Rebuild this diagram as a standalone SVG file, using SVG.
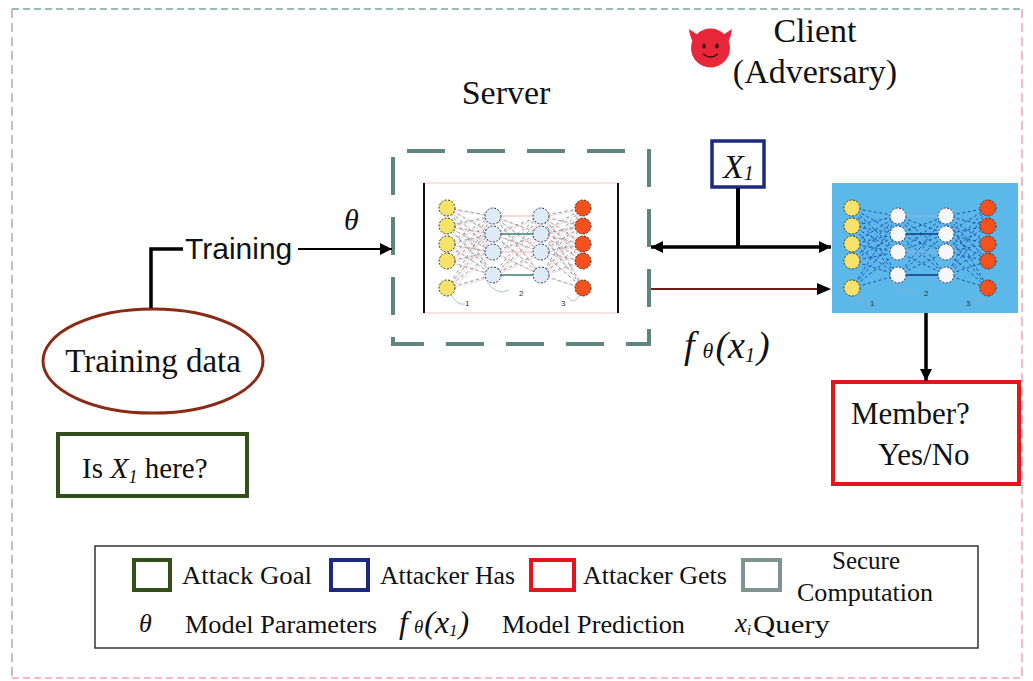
<svg xmlns="http://www.w3.org/2000/svg" xmlns:xlink="http://www.w3.org/1999/xlink" width="1033" height="681" viewBox="0 0 1033 681">
  <style>
    .serif { font-family: "Liberation Serif", "Times New Roman", serif; fill: #111; }
    .sans { font-family: "Liberation Sans", Arial, sans-serif; fill: #111; }
    .math { font-family: "Liberation Serif", "Times New Roman", serif; font-style: italic; fill: #111; }
    .wire { fill: none; stroke: #000; }
    .inNode { fill: #f7e36a; stroke: #333; stroke-width: 1; stroke-dasharray: 2 1.5; }
    .outNode { fill: #f4511e; stroke: #333; stroke-width: 1; stroke-dasharray: 2 1.5; }
    .hidS { fill: #dcebf6; stroke: #335; stroke-width: 1; stroke-dasharray: 2 1.5; }
    .hidC { fill: #f4f8fb; stroke: #335; stroke-width: 1; stroke-dasharray: 2 1.5; }
    .tiny { font-family: "Liberation Sans", Arial, sans-serif; font-size: 8px; fill: #333; }
    .legend { font-family: "Liberation Serif", "Times New Roman", serif; font-size: 25px; fill: #111; }
  </style>
  <defs>
    <marker id="arr" viewBox="0 0 10 10" refX="10" refY="5" markerWidth="14" markerHeight="12" markerUnits="userSpaceOnUse" orient="auto-start-reverse">
      <path d="M0 0L10 5L0 10z" fill="#000"/>
    </marker>
    <!-- fully connected layer edges, local x: input 0, hidden 46 / 94, output 136 -->
    <path id="nnEdges" d="M0 208L46 216M0 208L46 234M0 208L46 252M0 208L46 275M0 226L46 216M0 226L46 234M0 226L46 252M0 226L46 275M0 244L46 216M0 244L46 234M0 244L46 252M0 244L46 275M0 261L46 216M0 261L46 234M0 261L46 252M0 261L46 275M0 288L46 216M0 288L46 234M0 288L46 252M0 288L46 275M46 216L94 234M46 216L94 252M46 216L94 275M46 234L94 216M46 234L94 252M46 234L94 275M46 252L94 216M46 252L94 234M46 252L94 275M46 275L94 216M46 275L94 234M46 275L94 252M94 216L136 208M94 216L136 226M94 216L136 244M94 216L136 261M94 216L136 288M94 234L136 208M94 234L136 226M94 234L136 244M94 234L136 261M94 234L136 288M94 252L136 208M94 252L136 226M94 252L136 244M94 252L136 261M94 252L136 288M94 275L136 208M94 275L136 226M94 275L136 244M94 275L136 261M94 275L136 288"/>
    <path id="nnSolid" d="M46 234L94 234M46 275L94 275"/>
    <path id="nnFaint" d="M46 216L94 216M46 252L94 252"/>
    <g id="nnInputs">
      <circle cx="0" cy="208" r="8" class="inNode"/>
      <circle cx="0" cy="226" r="8" class="inNode"/>
      <circle cx="0" cy="244" r="8" class="inNode"/>
      <circle cx="0" cy="261" r="8" class="inNode"/>
      <circle cx="0" cy="288" r="8" class="inNode"/>
    </g>
    <g id="nnOutputs">
      <circle cx="136" cy="208" r="8" class="outNode"/>
      <circle cx="136" cy="226" r="8" class="outNode"/>
      <circle cx="136" cy="244" r="8" class="outNode"/>
      <circle cx="136" cy="261" r="8" class="outNode"/>
      <circle cx="136" cy="288" r="8" class="outNode"/>
    </g>
    <g id="nnHidden">
      <circle cx="46" cy="216" r="8"/>
      <circle cx="46" cy="234" r="8"/>
      <circle cx="46" cy="252" r="8"/>
      <circle cx="46" cy="275" r="8"/>
      <circle cx="94" cy="216" r="8"/>
      <circle cx="94" cy="234" r="8"/>
      <circle cx="94" cy="252" r="8"/>
      <circle cx="94" cy="275" r="8"/>
    </g>
    <g id="nnLabels">
      <path d="M4 294Q10 306 18 304M40 282Q50 296 62 290M120 296Q126 306 132 296" fill="none" stroke="#9aa" stroke-width="0.7"/>
      <text x="18" y="306" class="tiny">1</text>
      <text x="72" y="296" class="tiny">2</text>
      <text x="114" y="306" class="tiny">3</text>
    </g>
  </defs>

  <rect width="1033" height="681" fill="#fff"/>

  <!-- outer frame -->
  <g id="frame" fill="none" stroke-width="1.5">
    <path d="M12 9H1022" stroke="#7aa8a2" stroke-dasharray="7 4"/>
    <path d="M12 9V678" stroke="#b8a8a8" stroke-dasharray="9 5"/>
    <path d="M1022 9V678" stroke="#f3a5ae" stroke-dasharray="9 5"/>
    <path d="M12 678H1022" stroke="#f3a5ae" stroke-dasharray="7 4"/>
  </g>

  <!-- client / adversary -->
  <g id="client-label">
    <g id="devil">
      <path d="M689 29Q690 40 696 45L701 37Z" fill="#e8283a"/>
      <path d="M732 29Q731 40 725 45L720 37Z" fill="#e8283a"/>
      <ellipse cx="710.5" cy="48" rx="19.5" ry="19.5" fill="#e8283a"/>
      <ellipse cx="704" cy="46" rx="1.8" ry="2.6" fill="#3a1010"/>
      <ellipse cx="717" cy="46" rx="1.8" ry="2.6" fill="#3a1010"/>
      <path d="M703 54Q710.5 60 718 54" fill="none" stroke="#3a1010" stroke-width="1.5"/>
    </g>
    <text x="815" y="42" class="serif" font-size="34" text-anchor="middle">Client</text>
    <text x="815" y="83" class="serif" font-size="34" text-anchor="middle">(Adversary)</text>
  </g>

  <!-- server -->
  <g id="server">
    <text x="506" y="104" class="serif" font-size="34" text-anchor="middle">Server</text>
    <rect x="393" y="151" width="256" height="193" fill="#fff" stroke="#5e8582" stroke-width="4" stroke-dasharray="38 22" stroke-dashoffset="-14"/>
    <rect x="424" y="183" width="194" height="130" fill="#fff" stroke="#f6c4c8" stroke-width="1"/>
    <path d="M424 183V313M618 183V313" stroke="#111" stroke-width="2"/>
    <g transform="translate(447 0)">
      <use xlink:href="#nnEdges" fill="none" stroke="#4f9c92" stroke-width="0.9" stroke-dasharray="3 3"/>
      <use xlink:href="#nnEdges" fill="none" stroke="#f3b0b6" stroke-width="0.6" transform="translate(2 1)"/>
      <use xlink:href="#nnSolid" fill="none" stroke="#3c7d78" stroke-width="1.6"/>
      <use xlink:href="#nnFaint" fill="none" stroke="#f3b0b6" stroke-width="1"/>
      <use xlink:href="#nnInputs"/>
      <use xlink:href="#nnHidden" class="hidS"/>
      <use xlink:href="#nnOutputs"/>
      <use xlink:href="#nnLabels"/>
    </g>
  </g>

  <!-- client model -->
  <g id="client-model">
    <rect x="832" y="183" width="186" height="130" fill="#5db8ea"/>
    <g transform="translate(852 0)">
      <use xlink:href="#nnEdges" fill="none" stroke="#1f4fb0" stroke-width="1" stroke-dasharray="3 2.5"/>
      <use xlink:href="#nnSolid" fill="none" stroke="#123a80" stroke-width="1.6"/>
      <use xlink:href="#nnFaint" fill="none" stroke="#8fb5e0" stroke-width="1"/>
      <use xlink:href="#nnInputs"/>
      <use xlink:href="#nnHidden" class="hidC"/>
      <use xlink:href="#nnOutputs"/>
      <use xlink:href="#nnLabels"/>
    </g>
  </g>

  <!-- query sample -->
  <g id="query">
    <rect x="712" y="141" width="52" height="46" fill="#fff" stroke="#1b2a80" stroke-width="3.5"/>
    <text x="723" y="178" class="math" font-size="34">X<tspan font-size="20" dy="2">1</tspan></text>
  </g>

  <!-- training data -->
  <g id="training-data">
    <ellipse cx="153" cy="361" rx="110" ry="52" fill="#fff" stroke="#8a2b16" stroke-width="3"/>
    <text x="153" y="372" class="serif" font-size="33" text-anchor="middle">Training data</text>
  </g>

  <!-- attack goal -->
  <g id="attack-goal">
    <rect x="58" y="434" width="189" height="62" fill="#fff" stroke="#34501a" stroke-width="4"/>
    <text x="82" y="478" class="serif" font-size="29">Is <tspan class="math" font-size="30">X</tspan><tspan class="math" font-size="18" dy="5">1</tspan><tspan dy="-5"> here?</tspan></text>
  </g>

  <!-- membership result -->
  <g id="member">
    <rect x="833" y="382" width="186" height="102" fill="#fff" stroke="#e3161b" stroke-width="4"/>
    <text x="851" y="424" class="serif" font-size="31">Member?</text>
    <text x="878" y="465" class="serif" font-size="31">Yes/No</text>
  </g>

  <!-- connectors -->
  <g id="connectors">
    <path class="wire" d="M151 308V249H183" stroke-width="3.5"/>
    <path class="wire" d="M298 249H392" stroke-width="2.2" marker-end="url(#arr)"/>
    <path class="wire" d="M738 188V247" stroke-width="4"/>
    <path class="wire" d="M651 247H831" stroke-width="3.5" marker-start="url(#arr)" marker-end="url(#arr)"/>
    <path d="M651 289H820" fill="none" stroke="#7a1a1a" stroke-width="2"/>
    <path d="M817 283L831 289L817 295Z" fill="#000"/>
    <path class="wire" d="M926 313V381" stroke-width="3.5" marker-end="url(#arr)"/>
  </g>

  <!-- edge labels -->
  <g id="edge-labels">
    <text x="185" y="259" class="sans" font-size="30">Training</text>
    <text x="344" y="230" class="math" font-size="30">θ</text>
    <text x="684" y="358" class="math" font-size="38">f<tspan font-size="22" dx="8">θ</tspan><tspan dx="2">(x</tspan><tspan font-size="20" dy="4">1</tspan><tspan dy="-4" dx="2">)</tspan></text>
  </g>

  <!-- legend -->
  <g id="legend">
    <rect x="95" y="546" width="883" height="102" fill="#fff" stroke="#333" stroke-width="1.5"/>
    <rect x="134" y="560" width="36" height="30" fill="#fff" stroke="#34501a" stroke-width="4"/>
    <text x="182" y="584" class="legend" textLength="130" lengthAdjust="spacingAndGlyphs">Attack Goal</text>
    <rect x="331" y="560" width="37" height="30" fill="#fff" stroke="#1b2a80" stroke-width="4"/>
    <text x="380" y="584" class="legend" textLength="135" lengthAdjust="spacingAndGlyphs">Attacker Has</text>
    <rect x="531" y="560" width="43" height="30" fill="#fff" stroke="#e3161b" stroke-width="4"/>
    <text x="583" y="584" class="legend" textLength="144" lengthAdjust="spacingAndGlyphs">Attacker Gets</text>
    <rect x="743" y="560" width="37" height="30" fill="#fff" stroke="#7f9391" stroke-width="4"/>
    <text x="866" y="569" class="legend" text-anchor="middle">Secure</text>
    <text x="865" y="601" class="legend" text-anchor="middle" textLength="136" lengthAdjust="spacingAndGlyphs">Computation</text>
    <text x="139" y="632" class="math" font-size="26">θ</text>
    <text x="185" y="633" class="legend" textLength="192" lengthAdjust="spacingAndGlyphs">Model Parameters</text>
    <text x="399" y="633" class="math" font-size="32">f<tspan font-size="19" dx="6">θ</tspan><tspan dx="1">(x</tspan><tspan font-size="17" dy="3">1</tspan><tspan dy="-3" dx="1">)</tspan></text>
    <text x="502" y="633" class="legend" textLength="183" lengthAdjust="spacingAndGlyphs">Model Prediction</text>
    <text x="735" y="632" class="math" font-size="27">x<tspan font-size="15" dy="3">i</tspan></text>
    <text x="753" y="633" class="legend" textLength="77" lengthAdjust="spacingAndGlyphs">Query</text>
  </g>
</svg>
